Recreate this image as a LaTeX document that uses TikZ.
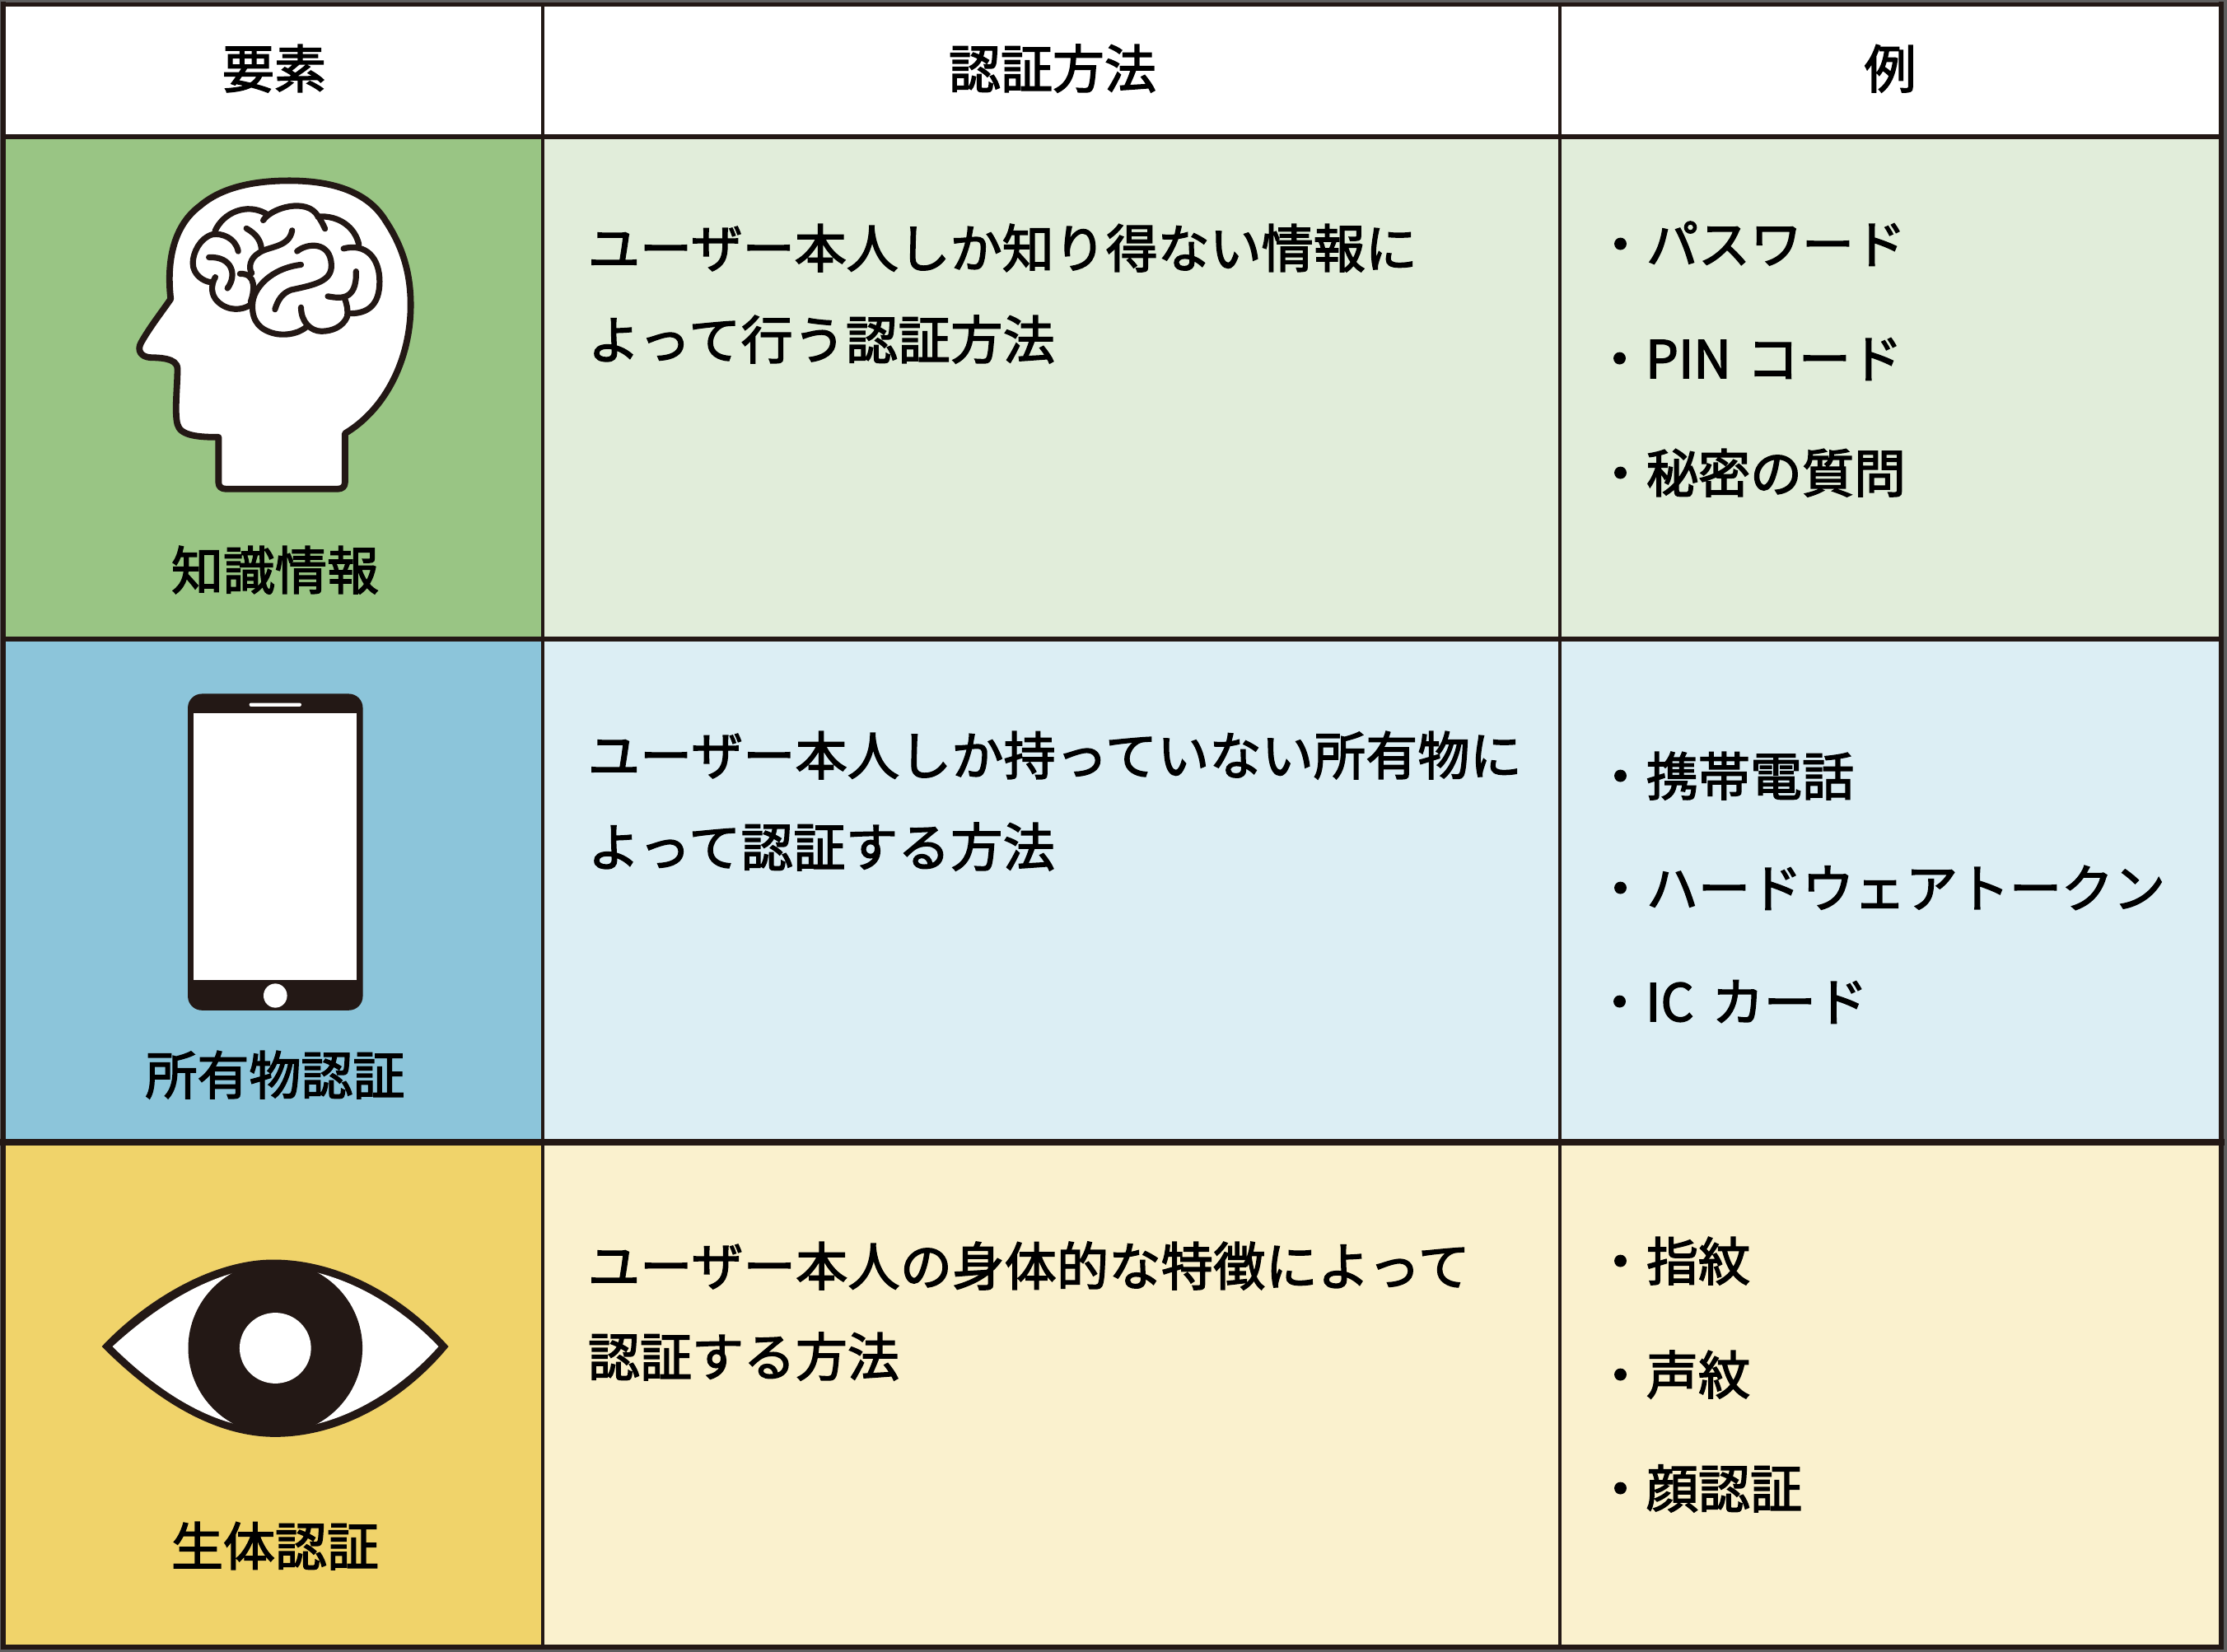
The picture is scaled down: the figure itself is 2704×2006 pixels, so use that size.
\documentclass[tikz,border=0pt]{standalone}
\usepackage{fontspec}
\setmainfont{Noto Sans CJK JP}[FakeBold=2.4]
\definecolor{ink}{HTML}{231815}
\definecolor{edge}{HTML}{5E5E5E}
\definecolor{gA}{HTML}{99C584}
\definecolor{gB}{HTML}{E1EDDA}
\definecolor{bA}{HTML}{8CC5DA}
\definecolor{bB}{HTML}{DCEEF4}
\definecolor{yA}{HTML}{F0D36A}
\definecolor{yB}{HTML}{FAF1CE}
\tikzset{
  lab/.style={font=\fontsize{31.5pt}{36pt}\selectfont,text=black,inner sep=0pt,outer sep=0pt},
  ctr/.style={lab,anchor=base},
  lft/.style={lab,anchor=base west},
  gridline/.style={draw=ink,line cap=rect},
  iconline/.style={draw=ink,line width=3.9pt,line cap=round,line join=round},
  brainline/.style={draw=ink,line width=3.6pt,line cap=round,line join=round}
}
\begin{document}
\begin{tikzpicture}[x=0.5pt,y=-0.5pt]
\path[use as bounding box,fill=edge] (0,0) rectangle (2704,2006);
% cells
\fill[white] (4,5) rectangle (2697,166);
\fill[gA] (4,166) rectangle (659,776);
\fill[gB] (659,166) rectangle (2697,776);
\fill[bA] (4,776) rectangle (659,1387);
\fill[bB] (659,776) rectangle (2697,1387);
\fill[yA] (4,1387) rectangle (659,2000);
\fill[yB] (659,1387) rectangle (2697,2000);
% grid
\draw[gridline,line width=2.6pt] (4,5.5) -- (2697,5.5);
\draw[gridline,line width=2.7pt] (4,166) -- (2697,166);
\draw[gridline,line width=2.7pt] (4,776) -- (2697,776);
\draw[gridline,line width=3.8pt] (4,1387) -- (2697,1387);
\draw[gridline,line width=2.6pt] (4,2000) -- (2697,2000);
\draw[gridline,line width=2.6pt] (4,5) -- (4,2000);
\draw[gridline,line width=2.6pt] (2697,5) -- (2697,2000);
\draw[gridline,line width=2.3pt] (659,5) -- (659,2000);
\draw[gridline,line width=1.9pt] (1894,5) -- (1894,2000);
% head icon
\begin{scope}[shift={(0,150)},x=0.2168pt,y=-0.2041pt]
\draw[iconline,fill=white] (478,522) .. controls (465,400) and (490,300) .. (560,245)
  .. controls (620,190) and (710,170) .. (810,170)
  .. controls (960,170) and (1040,220) .. (1080,290)
  .. controls (1130,370) and (1150,450) .. (1150,540)
  .. controls (1150,700) and (1080,850) .. (966,922)
  -- (966,1068) .. controls (966,1080) and (958,1087) .. (946,1087)
  -- (632,1087) .. controls (620,1087) and (612,1080) .. (612,1068)
  -- (612,933) .. controls (560,933) and (505,930) .. (497,895)
  .. controls (488,860) and (497,780) .. (497,730)
  .. controls (497,695) and (440,697) .. (420,696)
  .. controls (395,694) and (383,675) .. (395,652)
  .. controls (420,605) and (450,565) .. (478,522) -- cycle;
\draw[brainline] (602,320) .. controls (625,265) and (690,235) .. (745,268);
\draw[brainline] (737,288) .. controls (760,250) and (860,220) .. (890,275) .. controls (897,285) and (905,300) .. (910,313);
\draw[brainline] (890,277) .. controls (950,272) and (995,310) .. (1005,360);
\draw[brainline] (962,372) .. controls (1025,355) and (1063,400) .. (1063,470) .. controls (1063,540) and (1030,567) .. (975,565);
\draw[brainline] (965,520) .. controls (972,540) and (975,555) .. (972,575) .. controls (960,605) and (930,618) .. (900,618) .. controls (870,618) and (843,590) .. (843,547);
\draw[brainline] (858,605) .. controls (830,630) and (790,630) .. (770,625) .. controls (730,615) and (705,590) .. (707,540) .. controls (707,490) and (760,430) .. (843,420);
\draw[brainline] (667,380) .. controls (660,340) and (620,325) .. (595,330) .. controls (560,340) and (540,385) .. (540,415) .. controls (540,450) and (570,470) .. (590,472);
\draw[brainline] (603,457) .. controls (590,480) and (590,510) .. (610,530) .. controls (640,560) and (680,555) .. (700,540);
\draw[brainline] (637,490) .. controls (665,450) and (650,395) .. (585,398);
\draw[brainline] (672,447) .. controls (720,445) and (712,500) .. (702,530);
\draw[brainline] (690,312) .. controls (720,330) and (730,350) .. (732,372);
\draw[brainline] (818,318) .. controls (810,370) and (750,365) .. (725,385) .. controls (700,400) and (695,430) .. (705,445);
\draw[brainline] (832,380) .. controls (860,355) and (925,350) .. (928,420) .. controls (930,470) and (880,480) .. (815,495) .. controls (790,505) and (778,525) .. (770,553);
\draw[brainline] (918,514) .. controls (950,520) and (1000,530) .. (997,440);
\end{scope}
% phone icon
\begin{scope}[shift={(0,780)},x=0.2168pt,y=-0.1977pt]
\fill[ink,rounded corners=8.5pt] (526,158) rectangle (1016,1130);
\fill[white] (543,218) rectangle (998,1038);
\fill[white,rounded corners=1pt] (698,186) rectangle (844,197);
\fill[white] (771,1085) ellipse [x radius=33,y radius=37];
\end{scope}
% eye icon
\begin{scope}[shift={(0,1400)},x=0.2168pt,y=-0.1933pt]
\fill[ink] (285,608) .. controls (400,470) and (590,335) .. (765,335)
  .. controls (950,335) and (1130,450) .. (1256,608)
  .. controls (1130,780) and (950,892) .. (770,892)
  .. controls (590,892) and (420,760) .. (285,608) -- cycle;
\fill[white] (315,608) .. controls (420,500) and (590,360) .. (768,358)
  .. controls (950,360) and (1120,480) .. (1228,608)
  .. controls (1120,745) and (950,868) .. (770,868)
  .. controls (590,868) and (430,735) .. (315,608) -- cycle;
\begin{scope}
\clip (285,608) .. controls (400,470) and (590,335) .. (765,335)
  .. controls (950,335) and (1130,450) .. (1256,608)
  .. controls (1130,780) and (950,892) .. (770,892)
  .. controls (590,892) and (420,760) .. (285,608) -- cycle;
\fill[ink] (771,613) ellipse [x radius=244,y radius=271];
\end{scope}
\fill[white] (771,613) ellipse [x radius=100,y radius=111];
\end{scope}
% header
\node[ctr] (h1) at (333,107) {要素};
\node[ctr] (h2) at (1278,107) {認証方法};
\node[ctr] (h3) at (2295,107) {例};
% left labels
\node[ctr] (k1) at (334,716) {知識情報};
\node[ctr] (k2) at (334,1329) {所有物認証};
\node[ctr] (k3) at (334,1901) {生体認証};
% methods
\node[lft] (m1a) at (714,325) {ユーザー本人しか知り得ない情報に};
\node[lft] (m1b) at (714,436) {\addfontfeature{RawFeature={letterspace=1}}よって行う認証方法};
\node[lft] (m2a) at (714,941) {\addfontfeature{RawFeature={letterspace=0.4}}ユーザー本人しか持っていない所有物に};
\node[lft] (m2b) at (714,1052) {\addfontfeature{RawFeature={letterspace=1}}よって認証する方法};
\node[lft] (m3a) at (714,1561) {\addfontfeature{RawFeature={letterspace=0.6}}ユーザー本人の身体的な特徴によって};
\node[lft] (m3b) at (714,1671) {認証する方法};
% examples
\node[lft] (e1) at (1936,320) {・パスワード};
\node[lft] (e2) at (1935,459) {・PIN\hspace{2.5pt} コード};
\node[lft] (e3) at (1936,598) {・秘密の質問};
\node[lft] (e4) at (1936,966) {・携帯電話};
\node[lft] (e5) at (1936,1102) {・ハードウェアトークン};
\node[lft] (e6) at (1935,1240) {・IC\hspace{4pt} カード};
\node[lft] (e7) at (1936,1555) {・指紋};
\node[lft] (e8) at (1936,1693) {・声紋};
\node[lft] (e9) at (1936,1831) {・顔認証};
\end{tikzpicture}
\end{document}
